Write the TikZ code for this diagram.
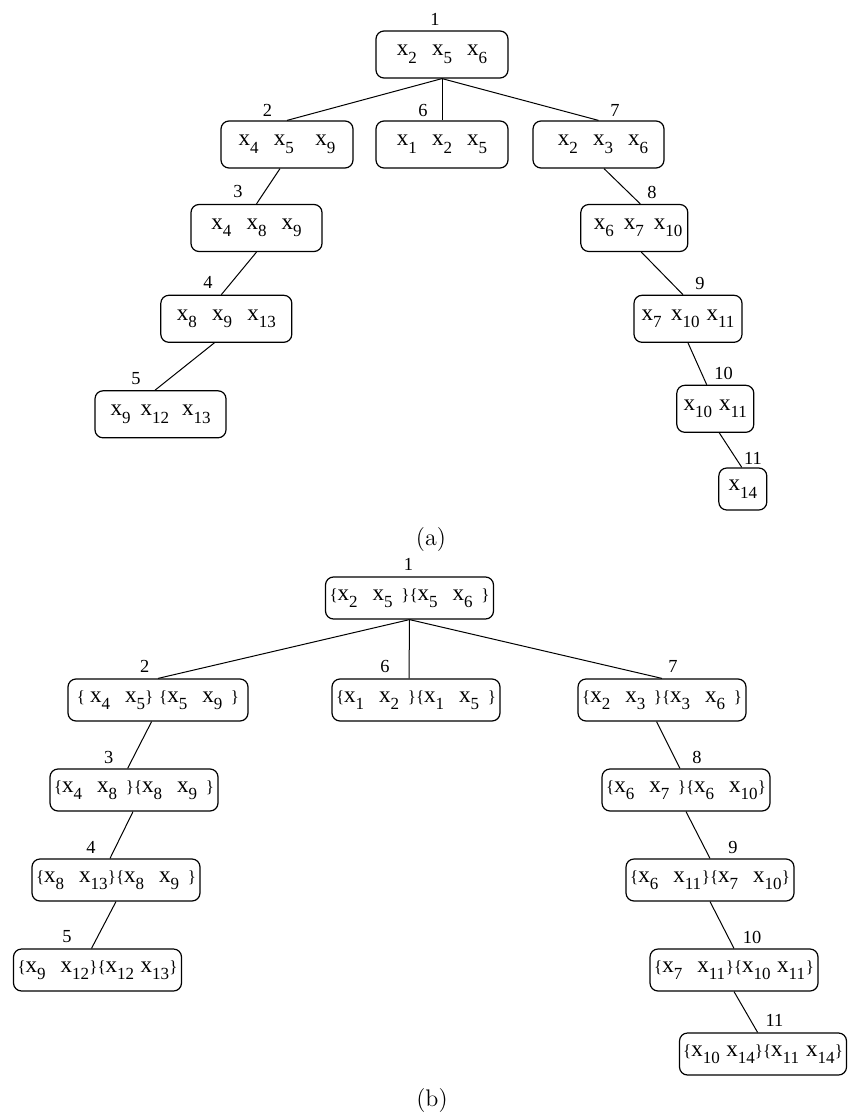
\documentclass[tikz,border=0pt]{standalone}
\usepackage{fontspec}
\newfontfamily\tnr{Liberation Serif}
\newcommand\xx[1]{x\raisebox{-3.8pt}{\fontsize{8.5}{9}\selectfont #1}}
\newcommand\xs[1]{\makebox[14.3pt][l]{\xx{#1}}}
\newcommand\lb{{\fontsize{8.5}{9}\selectfont\{}}
\newcommand\rb{{\fontsize{8.5}{9}\selectfont\}}}
\newcommand\gp{\hspace{7.6pt}}
\newcommand\gb{\hspace{3.2pt}}
\tikzset{
  tbox/.style={draw, rounded corners=4pt, inner sep=0pt, line width=0.6pt,
    minimum height=23.5pt, font=\tnr\fontsize{11.5}{13}\selectfont},
  bbox/.style={draw, rounded corners=4pt, inner sep=0pt, line width=0.6pt,
    minimum height=21pt, minimum width=84pt, font=\tnr\fontsize{11.5}{13}\selectfont},
  lbl/.style={inner sep=0pt, font=\tnr\fontsize{9.2}{10}\selectfont},
  conn/.style={line width=0.5pt},
  captxt/.style={inner sep=0pt, font=\fontsize{12}{14}\selectfont}
}
\begin{document}
\begin{tikzpicture}[x=0.5pt, y=-0.5pt]
\useasboundingbox (0,0) rectangle (847,1117);
% ---------- (a) ----------
\node[tbox, minimum width=66pt] (a1) at (442,54.5) {\xx2\gp\xx5\gp\xx6};
\node[tbox, minimum width=66pt] (a2) at (287,144.5) {\xx4\gp\xx5\hspace{10.8pt}\xx9\hspace{5.3pt}};
\node[tbox, minimum width=66pt] (a6) at (442,144.5) {\xx1\gp\xx2\gp\xx5};
\node[tbox, minimum width=65.5pt] (a7) at (598.5,144.5) {\hspace{4.5pt}\xx2\gp\xx3\gp\xx6};
\node[tbox, minimum width=65.5pt] (a3) at (256.5,228) {\xx4\gp\xx8\gp\xx9};
\node[tbox, minimum width=65.5pt] (a4) at (226.3,318.8) {\xx8\gp\xx9\gp\xx{13}\hspace{3.3pt}};
\node[tbox, minimum width=65.5pt] (a5) at (160.5,414.3) {\xx9\hspace{5pt}\xx{12}\hspace{6.5pt}\xx{13}\hspace{3pt}};
\node[tbox, minimum width=53.5pt] (a8) at (634.3,228) {\hspace{3.7pt}\xx6\hspace{5pt}\xx7\hspace{5pt}\xx{10}};
\node[tbox, minimum width=54pt] (a9) at (688,318.8) {\xx7\hspace{4.7pt}\xx{10}\hspace{3.5pt}\xx{11}};
\node[tbox, minimum width=38.5pt] (a10) at (715.3,408.8) {\xx{10}\hspace{3.5pt}\xx{11}};
\node[tbox, minimum width=24pt, minimum height=21pt] (a11) at (742.8,489) {\xx{14}\hspace{3pt}};
\node[lbl] (la1) at (435,19) {1};
\node[lbl] (la2) at (267.5,110.5) {2};
\node[lbl] (la6) at (423,110.5) {6};
\node[lbl] (la7) at (615,110.5) {7};
\node[lbl] (la3) at (238,192) {3};
\node[lbl] (la4) at (208,282) {4};
\node[lbl] (la5) at (136,379) {5};
\node[lbl] (la8) at (652,192) {8};
\node[lbl] (la9) at (700,283.7) {9};
\node[lbl] (la10) at (723.5,373.3) {10};
\node[lbl] (la11) at (753,458.3) {11};
\draw[conn] (a1.south) -- (a2.north);
\draw[conn] (a1.south) -- (a6.north);
\draw[conn] (a1.south) -- (a7.north);
\draw[conn] ([xshift=-3.5pt]a2.south) -- (a3.north);
\draw[conn] (a3.south) -- ([xshift=-2.5pt]a4.north);
\draw[conn] ([xshift=-6pt]a4.south) -- ([xshift=-2.75pt]a5.north);
\draw[conn] ([xshift=2.75pt]a7.south) -- ([xshift=3pt]a8.north);
\draw[conn] ([xshift=3.5pt]a8.south) -- ([xshift=-2.5pt]a9.north);
\draw[conn] (a9.south) -- ([xshift=-4.3pt]a10.north);
\draw[conn] ([xshift=2pt]a10.south) -- ([xshift=-0.5pt]a11.north);
\node[captxt] (capa) at (431,540) {(a)};
% ---------- (b) ----------
\node[bbox] (b1) at (409.5,598) {\lb\xs2\gb\xs5\rb\lb\xs5\gb\xs6\rb};
\node[bbox, minimum width=90pt] (b2) at (158,700) {\lb\hspace{2.5pt}\xs4\gb\xx5\rb\hspace{3pt}\lb\xs5\gb\xs9\rb};
\node[bbox] (b6) at (416,700) {\lb\xs1\gb\xs2\rb\lb\xs1\gb\xs5\rb};
\node[bbox] (b7) at (662,700) {\lb\xs2\gb\xs3\rb\lb\xs3\gb\xs6\rb};
\node[bbox] (b3) at (134,790) {\lb\xs4\gb\xs8\rb\lb\xs8\gb\xs9\rb};
\node[bbox] (b4) at (116,880) {\lb\xs8\gb\xs{13}\rb\lb\xs8\gb\xs9\rb};
\node[bbox] (b5) at (97.5,970) {\lb\xs9\gb\xs{12}\rb\lb\xs{12}\gb\xs{13}\rb};
\node[bbox] (b8) at (686,790) {\lb\xs6\gb\xs7\rb\lb\xs6\gb\xs{10}\rb};
\node[bbox] (b9) at (710,880) {\lb\xs6\gb\xs{11}\rb\lb\xs7\gb\xs{10}\rb};
\node[bbox] (b10) at (734,970) {\lb\xs7\gb\xs{11}\rb\lb\xs{10}\gb\xs{11}\rb};
\node[bbox, minimum width=83.5pt] (b11) at (763,1054) {\lb\xs{10}\gb\xs{14}\rb\lb\xs{11}\gb\xs{14}\rb};
\node[lbl] (lb1) at (408.5,564) {1};
\node[lbl] (lb2) at (144.7,666) {2};
\node[lbl] (lb6) at (385,666) {6};
\node[lbl] (lb7) at (673,666) {7};
\node[lbl] (lb3) at (108.7,757) {3};
\node[lbl] (lb4) at (91,847) {4};
\node[lbl] (lb5) at (67,937) {5};
\node[lbl] (lb8) at (697,757) {8};
\node[lbl] (lb9) at (733,847) {9};
\node[lbl] (lb10) at (752,937) {10};
\node[lbl] (lb11) at (774.5,1020.5) {11};
\draw[conn] (b1.south) -- (b2.north);
\draw[conn] (b1.south) -- ([xshift=-3.5pt]b6.north);
\draw[conn] (b1.south) -- (b7.north);
\draw[conn] ([xshift=-3.2pt]b2.south) -- ([xshift=-3.2pt]b3.north);
\draw[conn] ([xshift=-0.5pt]b3.south) -- ([xshift=-3pt]b4.north);
\draw[conn] (b4.south) -- ([xshift=-3pt]b5.north);
\draw[conn] ([xshift=-2.7pt]b7.south) -- ([xshift=-3pt]b8.north);
\draw[conn] (b8.south) -- (b9.north);
\draw[conn] (b9.south) -- (b10.north);
\draw[conn] (b10.south) -- ([xshift=-2.7pt]b11.north);
\node[captxt] (capb) at (432,1100) {(b)};
\end{tikzpicture}
\end{document}
